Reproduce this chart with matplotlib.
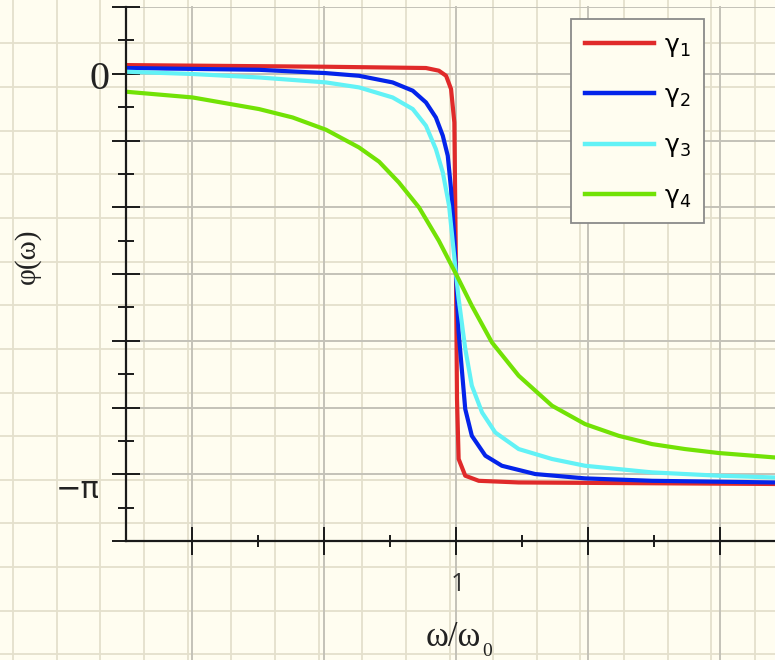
import numpy as np
import matplotlib
matplotlib.use("Agg")
import matplotlib.pyplot as plt
import matplotlib.transforms as mtransforms

# ---------------- data ----------------
series_names = ["γ$_1$", "γ$_2$", "γ$_3$", "γ$_4$"]
series_colors = ["#e02a2a", "#0424ea", "#62f2f6", "#72e205"]

x_g1 = [0.000, 0.606, 0.909, 0.948, 0.970, 0.985, 0.995, 1.000, 1.003, 1.008,
        1.028, 1.069, 1.190, 1.967]
phi_g1 = [0.068, 0.055, 0.045, 0.024, -0.016, -0.120, -0.382, -1.571, -2.549, -3.022,
          -3.153, -3.193, -3.206, -3.218]

x_g2 = [0.000, 0.403, 0.606, 0.706, 0.808, 0.869, 0.909, 0.939, 0.960, 0.975,
        0.985, 0.995, 1.000, 1.008, 1.028, 1.048, 1.089, 1.139, 1.240, 1.391,
        1.594, 1.967]
phi_g2 = [0.045, 0.031, 0.005, -0.016, -0.068, -0.133, -0.225, -0.343, -0.486, -0.643,
          -0.904, -1.294, -1.571, -2.029, -2.630, -2.840, -2.996, -3.075, -3.140, -3.174,
          -3.193, -3.206]

x_g3 = [0.000, 0.202, 0.403, 0.606, 0.706, 0.808, 0.869, 0.909, 0.939, 0.960,
        0.979, 1.000, 1.008, 1.028, 1.048, 1.079, 1.119, 1.190, 1.291, 1.391,
        1.594, 1.796, 1.967]
phi_g3 = [0.016, -0.002, -0.029, -0.068, -0.107, -0.186, -0.277, -0.408, -0.591, -0.774,
          -1.035, -1.571, -1.765, -2.157, -2.447, -2.657, -2.814, -2.944, -3.022, -3.075,
          -3.127, -3.153, -3.167]

x_g4 = [0.000, 0.202, 0.403, 0.505, 0.606, 0.706, 0.767, 0.827, 0.888, 0.948,
        1.000, 1.048, 1.109, 1.190, 1.291, 1.391, 1.493, 1.594, 1.694, 1.796,
        1.967]
phi_g4 = [-0.141, -0.186, -0.277, -0.343, -0.439, -0.578, -0.690, -0.853, -1.049, -1.310,
          -1.571, -1.820, -2.108, -2.369, -2.604, -2.748, -2.840, -2.905, -2.944, -2.975,
          -3.010]

x_major = [0.2, 0.6, 1.0, 1.4, 1.8]
x_minor = [0.4, 0.8, 1.2, 1.6]
x_ticklabels = {1.0: "1"}
y_major = [k * np.pi / 6 for k in range(-7, 2)]
y_minor = [(k + 0.5) * np.pi / 6 for k in range(-7, 1)]
y_ticklabels = {0.0: "0", -np.pi: "\u2212\u03c0"}
x_title_main = "ω/ω"
x_title_sub = "0"
y_title = "φ(ω)"

# ---------------- styling ----------------
W, H = 775, 660
bg = "#fffdf0"
paper_grid = "#e4e0cc"
plot_grid = "#c4c2b8"

plt.rcParams["font.family"] = ["DejaVu Sans"]
plt.rcParams["mathtext.fontset"] = "dejavusans"

fig = plt.figure(figsize=(W / 100, H / 100), dpi=100, facecolor=bg)

# paper background grid covering the whole figure
bgax = fig.add_axes([0, 0, 1, 1], zorder=-10)
bgax.set_xlim(0, W)
bgax.set_ylim(H, 0)
bgax.set_facecolor(bg)
bgax.axis("off")
for k in range(0, 19):
    bgax.axvline(13 + 43.65 * k, color=paper_grid, lw=1.3, zorder=0)
for k in range(0, 16):
    bgax.axhline(43.3 + 43.65 * k, color=paper_grid, lw=1.3, zorder=0)

ax = fig.add_axes([126 / W, (H - 541) / H, (W - 126) / W, (541 - 7) / H])
ax.set_facecolor("none")
ax.set_xlim(0, (W - 126) / 330)
ax.set_ylim(-7 * np.pi / 6, np.pi / 6)

for s in ["top", "right"]:
    ax.spines[s].set_visible(False)
for s in ["left", "bottom"]:
    ax.spines[s].set_linewidth(1.6)
    ax.spines[s].set_color("#1a1a1a")
    ax.spines[s].set_zorder(5)

ax.set_xticks(x_major)
ax.set_xticks(x_minor, minor=True)
ax.set_yticks(y_major)
ax.set_yticks(y_minor, minor=True)
ax.tick_params(axis="both", which="major", direction="inout", length=20, width=1.4,
               color="#1a1a1a", labelleft=False, labelbottom=False)
ax.tick_params(axis="x", which="minor", direction="inout", length=9, width=1.4, color="#1a1a1a")
ax.tick_params(axis="y", which="minor", direction="inout", length=11, width=1.4, color="#1a1a1a")

# plot grid
for yv in y_major:
    ax.axhline(yv, color=plot_grid, lw=1.4, zorder=1)
for xv in x_major:
    ax.axvline(xv, ymin=-0.3, ymax=1.0, color=plot_grid, lw=1.4, zorder=1, clip_on=False)

# curves
handles = []
for xs, ys, c, name in zip([x_g1, x_g2, x_g3, x_g4], [phi_g1, phi_g2, phi_g3, phi_g4],
                           series_colors, series_names):
    ln, = ax.plot(xs, ys, color=c, lw=3.0, solid_joinstyle="round", zorder=3, label=name)
    handles.append(ln)

# tick labels (custom fonts / offsets as in reference)
ytr = mtransforms.blended_transform_factory(ax.transAxes, ax.transData)
ax.annotate(y_ticklabels[0.0], xy=(0, 0.0), xycoords=ytr, xytext=(-12, -4),
            textcoords="offset points", ha="right", va="center",
            fontsize=29, family="Liberation Serif", color="#222")
ax.annotate(y_ticklabels[-np.pi], xy=(0, -np.pi), xycoords=ytr, xytext=(-19, -11),
            textcoords="offset points", ha="right", va="center",
            fontsize=22, family="DejaVu Sans", color="#222")
xtr = mtransforms.blended_transform_factory(ax.transData, ax.transAxes)
ax.annotate(x_ticklabels[1.0], xy=(1.0, 0), xycoords=xtr, xytext=(1, -31),
            textcoords="offset points", ha="center", va="center",
            fontsize=18, family="Open Sans", color="#333")

# axis titles
fig.text(453 / W, (H - 646) / H, x_title_main, ha="center", va="baseline",
         fontsize=25, family="Liberation Serif", color="#222")
fig.text(482 / W, (H - 643) / H, x_title_sub, ha="left", va="top",
         fontsize=14, family="Liberation Serif", color="#222")
fig.text(27 / W, (H - 256) / H, y_title, ha="center", va="center", rotation=90,
         fontsize=21, family="Liberation Serif", color="#222")

leg = ax.legend(handles=handles, loc="upper left",
                bbox_to_anchor=(571 / W, (H - 19) / H), bbox_transform=fig.transFigure,
                borderaxespad=0, frameon=True, fancybox=False, framealpha=1,
                facecolor=bg, edgecolor="#8a8a8a", fontsize=18,
                handlelength=2.75, handletextpad=0.4, labelspacing=0.97,
                borderpad=0.55)
leg.get_frame().set_linewidth(1.3)
for l in leg.get_lines():
    l.set_linewidth(3.2)
leg.set_zorder(10)

fig.savefig("out.png", dpi=100, facecolor=bg)
